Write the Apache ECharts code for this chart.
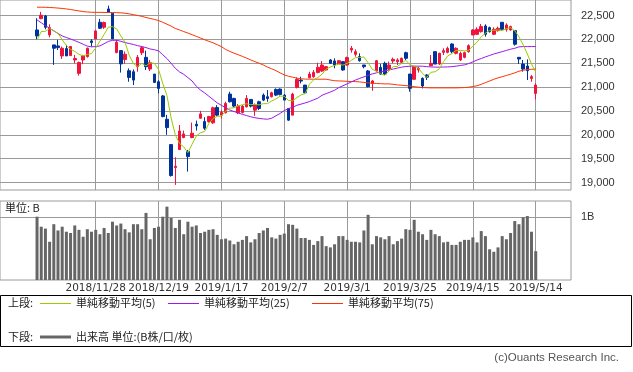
<!DOCTYPE html>
<html><head><meta charset="utf-8">
<script src="https://cdn.jsdelivr.net/npm/echarts@6/dist/echarts.min.js"></script>
<style>html,body{margin:0;padding:0;background:#fff}#c{width:633px;height:372px}</style>
</head><body><div id="c"></div>
<script>
const dates = [
'2018/11/7','2018/11/8','2018/11/9','2018/11/12','2018/11/13','2018/11/14','2018/11/15','2018/11/16','2018/11/19','2018/11/20','2018/11/21','2018/11/22','2018/11/26','2018/11/27','2018/11/28','2018/11/29','2018/11/30',
'2018/12/3','2018/12/4','2018/12/5','2018/12/6','2018/12/7','2018/12/10','2018/12/11','2018/12/12','2018/12/13','2018/12/14','2018/12/17','2018/12/18','2018/12/19','2018/12/20','2018/12/21','2018/12/25','2018/12/26','2018/12/27','2018/12/28',
'2019/1/4','2019/1/7','2019/1/8','2019/1/9','2019/1/10','2019/1/11','2019/1/15','2019/1/16','2019/1/17','2019/1/18','2019/1/21','2019/1/22','2019/1/23','2019/1/24','2019/1/25','2019/1/28','2019/1/29','2019/1/30','2019/1/31',
'2019/2/1','2019/2/4','2019/2/5','2019/2/6','2019/2/7','2019/2/8','2019/2/12','2019/2/13','2019/2/14','2019/2/15','2019/2/18','2019/2/19','2019/2/20','2019/2/21','2019/2/22','2019/2/25','2019/2/26','2019/2/27','2019/2/28',
'2019/3/1','2019/3/4','2019/3/5','2019/3/6','2019/3/7','2019/3/8','2019/3/11','2019/3/12','2019/3/13','2019/3/14','2019/3/15','2019/3/18','2019/3/19','2019/3/20','2019/3/22','2019/3/25','2019/3/26','2019/3/27','2019/3/28','2019/3/29',
'2019/4/1','2019/4/2','2019/4/3','2019/4/4','2019/4/5','2019/4/8','2019/4/9','2019/4/10','2019/4/11','2019/4/12','2019/4/15','2019/4/16','2019/4/17','2019/4/18','2019/4/19','2019/4/22','2019/4/23','2019/4/24','2019/4/25','2019/4/26',
'2019/5/7','2019/5/8','2019/5/9','2019/5/10','2019/5/13','2019/5/14'];

const labelDates = ['2018/11/28','2018/12/19','2019/1/17','2019/2/7','2019/3/1','2019/3/25','2019/4/15','2019/5/14'];
const priceTicks = [19000,19500,20000,20500,21000,21500,22000,22500];
const volumeTicks = [1];

const open = [22199,22437,22493,22094,21886,21864,21655,21809,21662,21571,
21290,21571,21641,21970,22011,22361,22256,22640,22549,21725,
21767,21580,21345,21324,21429,21723,21625,21380,21275,21114,
20817,20328,19797,19315,19693,19944,19650,19944,20223,20349,
20279,20279,20253,20575,20414,20463,20855,20764,20463,20470,
20589,20743,20519,20694,20834,20799,20799,20953,20960,20834,
20554,20414,20995,21149,21044,21198,21219,21310,21338,21360,
21570,21550,21490,21535,21465,21780,21688,21640,21465,21340,
21080,21345,21415,21500,21380,21548,21535,21520,21723,21275,
21165,21360,21185,21255,21450,21744,21485,21730,21730,21905,
21709,21570,21625,21744,22094,22108,22164,22283,22248,22108,
22185,22360,22213,22199,22185,21625,21485,21443,21184,20870];

const close = [22073,22507,22255,22248,21816,21829,21816,21655,21851,21600,
21516,21655,21816,21935,22179,22235,22354,22570,22011,21942,
21488,21690,21205,21149,21625,21828,21429,21513,21100,20974,
20384,20153,19147,19343,20080,20020,19546,20035,20188,20440,
20140,20384,20568,20414,20470,20659,20694,20603,20603,20603,
20764,20603,20624,20554,20729,20764,20883,20834,20848,20729,
20309,20855,21163,21128,20883,21275,21310,21415,21464,21430,
21500,21465,21555,21360,21620,21815,21744,21555,21430,21010,
21130,21555,21275,21275,21465,21583,21570,21605,21605,20975,
21430,21395,21025,21210,21500,21485,21709,21765,21815,21744,
21815,21709,21723,21870,22199,22213,22269,22108,22164,22213,
22234,22213,22304,22269,21900,21590,21380,21345,21220,21044];

const low = [22003,22423,22213,22045,21467,21780,21592,21655,21655,21502,
21243,21481,21620,21851,22011,22221,22221,22563,22011,21711,
21306,21490,21114,21044,21324,21674,21359,21338,21093,20869,
20370,20000,19126,18952,19693,19930,19231,19930,20090,20335,
20105,20258,20230,20393,20344,20449,20680,20575,20435,20449,
20575,20575,20400,20519,20708,20694,20785,20813,20827,20729,
20295,20414,20974,21079,20869,21184,21198,21289,21317,21340,
21485,21395,21490,21345,21450,21723,21640,21535,21395,20995,
20925,21325,21255,21255,21360,21500,21465,21500,21570,20905,
21150,21305,20975,21150,21450,21485,21464,21674,21709,21709,
21688,21548,21604,21723,22094,22094,22143,22059,22143,22094,
22164,22199,22164,22185,21870,21485,21324,21150,21114,20743];

const high = [22444,22577,22514,22318,21886,21990,21851,21886,21851,21676,
21537,21676,21830,22005,22200,22431,22375,22710,22549,21990,
21767,21750,21394,21373,21674,21863,21765,21569,21275,21149,
20838,20419,19797,19532,20206,20090,19685,20258,20300,20503,
20370,20398,20590,20624,20520,20694,20904,20778,20645,20624,
20834,20743,20659,20715,20869,20939,20904,20974,20974,20855,
20554,20883,21205,21219,21044,21324,21359,21513,21548,21445,
21590,21605,21570,21550,21640,21863,21793,21710,21465,21360,
21150,21570,21485,21535,21535,21620,21605,21620,21744,21275,
21445,21430,21205,21275,21673,21744,21723,21815,21850,21919,
21835,21744,21744,21898,22213,22255,22325,22318,22269,22255,
22269,22360,22339,22290,22185,21625,21569,21583,21254,21080];

const volume = [1.01,0.85,0.82,0.61,0.89,0.79,0.85,0.77,0.75,0.87,
0.80,0.69,0.81,0.77,0.80,0.73,0.83,0.75,0.93,0.87,
0.90,0.81,0.76,0.89,0.89,0.81,1.07,0.65,0.83,0.85,
1.01,1.17,0.99,0.83,0.96,0.73,0.93,0.85,0.87,0.75,
0.77,0.80,0.81,0.72,0.65,0.66,0.63,0.57,0.61,0.64,
0.70,0.60,0.65,0.75,0.79,0.83,0.68,0.66,0.72,0.74,
0.89,0.88,0.82,0.67,0.67,0.64,0.56,0.62,0.70,0.54,
0.52,0.57,0.70,0.70,0.64,0.61,0.61,0.60,0.79,1.04,
0.57,0.70,0.68,0.65,0.70,0.57,0.62,0.66,0.81,0.80,
0.96,0.77,0.73,0.64,0.80,0.73,0.70,0.60,0.61,0.56,
0.56,0.61,0.64,0.64,0.68,0.60,0.78,0.70,0.49,0.45,
0.52,0.70,0.65,0.75,0.94,0.89,1.00,1.02,0.77,0.46];

const ma5 = [21990,22165,22170,22230,22180,22131,21993,21873,21793,21750,
21688,21655,21688,21704,21820,21964,22104,22255,22270,22222,
22073,21940,21667,21495,21431,21499,21447,21509,21499,21369,
21080,20825,20352,20000,19821,19749,19627,19805,19974,20046,
20070,20237,20344,20389,20395,20499,20561,20568,20606,20632,
20653,20635,20639,20630,20655,20655,20711,20753,20812,20812,
20721,20715,20781,20837,20868,21061,21152,21202,21269,21379,
21424,21455,21483,21462,21500,21563,21619,21619,21633,21511,
21374,21336,21280,21249,21340,21431,21434,21500,21566,21468,
21437,21402,21286,21207,21312,21323,21386,21534,21655,21704,
21770,21770,21761,21772,21863,21943,22055,22132,22191,22193,
22198,22186,22226,22247,22184,22055,21889,21697,21487,21316];

const ma25 = [22410,22350,22290,22235,22180,22125,22074,22040,22010,21975,
21940,21900,21860,21845,21850,21865,21910,21960,21980,21985,
21960,21935,21915,21895,21870,21852,21830,21800,21785,21760,
21680,21600,21500,21395,21320,21270,21200,21130,21020,20940,
20880,20810,20740,20670,20620,20570,20520,20490,20460,20430,
20405,20380,20360,20345,20335,20328,20350,20400,20450,20510,
20550,20580,20620,20645,20670,20698,20735,20768,20830,20865,
20900,20935,20990,21030,21070,21110,21150,21185,21215,21250,
21278,21300,21320,21340,21360,21380,21400,21420,21432,21440,
21442,21440,21440,21430,21425,21420,21420,21422,21425,21430,
21440,21455,21467,21495,21530,21570,21600,21635,21665,21695,
21720,21745,21770,21795,21815,21845,21851,21851,21851,21851];

const ma75 = [22676,22676,22674,22670,22665,22658,22650,22640,22628,22612,
22598,22585,22575,22570,22568,22568,22566,22566,22565,22562,
22558,22550,22536,22520,22503,22485,22460,22440,22420,22396,
22360,22320,22280,22230,22200,22165,22135,22100,22065,22030,
21995,21960,21930,21890,21850,21790,21750,21712,21680,21645,
21610,21570,21535,21502,21465,21420,21385,21347,21300,21257,
21230,21209,21190,21175,21170,21167,21167,21167,21167,21167,
21150,21135,21131,21128,21122,21118,21117,21110,21100,21090,
21083,21078,21073,21069,21069,21060,21048,21040,21033,21025,
21010,21000,20991,20988,20985,20985,20985,20985,20985,20985,
20985,20988,20992,21000,21013,21030,21060,21095,21130,21165,
21195,21220,21245,21270,21300,21335,21355,21368,21375,21380];

const UP = '#f0143c', DOWN = '#003399', GRID = '#9a9a9a';
const C5 = '#99cc00', C25 = '#9a1aee', C75 = '#ff3300';
const NUM_FONT = 'Liberation Sans, Arial, sans-serif';
const XL_FONT = 'DejaVu Sans, sans-serif';
const JP_FONT = 'Noto Sans CJK JP, sans-serif';

const labelIdx = labelDates.map(d => dates.indexOf(d));
const xMin = -8.84, xMax = 127.42;

const candleData = dates.map((d, i) => [i, open[i], close[i], low[i], high[i]]);
const pairs = arr => arr.map((v, i) => [i, v]);
const fmtComma = v => String(v).replace(/\B(?=(\d{3})+(?!\d))/g, ',');

function xAxisCfg(gi, showLabel) {
  return {
    type: 'value', gridIndex: gi, min: xMin, max: xMax,
    axisLine: {show: false},
    axisTick: {show: false, customValues: labelIdx},
    axisLabel: {show: showLabel, customValues: labelIdx, formatter: v => dates[Math.round(v)],
      color: '#333', fontSize: 10.5, fontFamily: XL_FONT, margin: 3, hideOverlap: false},
    splitLine: {show: true, lineStyle: {color: GRID, width: 1}}
  };
}

const T = (text, x, y, extra) => Object.assign({type: 'text', x: x, y: y,
  style: {text: text, font: '11px ' + JP_FONT, fill: '#222', verticalAlign: 'middle'}}, extra || {});
const L = (x1, x2, y, color, w) => ({type: 'line', shape: {x1: x1, y1: y, x2: x2, y2: y}, style: {stroke: color, lineWidth: w}});

const chart = echarts.init(document.getElementById('c'));
chart.setOption({
  animation: false,
  backgroundColor: '#fff',
  grid: [
    {left: 0, top: 0, width: 571, height: 190, show: true, borderColor: GRID, borderWidth: 1},
    {left: 0, top: 201, width: 571, height: 79, show: true, borderColor: GRID, borderWidth: 1}
  ],
  xAxis: [xAxisCfg(0, false), xAxisCfg(1, true)],
  yAxis: [
    {type: 'value', gridIndex: 0, position: 'right', min: 18845, max: 22827,
      axisLine: {show: false},
      axisTick: {show: true, inside: false, length: 3, customValues: priceTicks, lineStyle: {color: GRID}},
      axisLabel: {customValues: priceTicks, formatter: fmtComma, color: '#333', fontSize: 11, fontFamily: NUM_FONT, margin: 10},
      splitLine: {show: true, lineStyle: {color: GRID, width: 1}}},
    {type: 'value', gridIndex: 1, position: 'right', min: 0, max: 1.26,
      axisLine: {show: false},
      axisTick: {show: true, inside: false, length: 3, customValues: volumeTicks, lineStyle: {color: GRID}},
      axisLabel: {customValues: volumeTicks, formatter: v => v + 'B', color: '#333', fontSize: 11, fontFamily: NUM_FONT, margin: 10},
      splitLine: {show: true, lineStyle: {color: GRID, width: 1}}}
  ],
  series: [
    {type: 'candlestick', xAxisIndex: 0, yAxisIndex: 0, data: candleData,
      encode: {x: 0, y: [1, 2, 3, 4]}, barWidth: 3, z: 3,
      itemStyle: {color: UP, color0: DOWN, borderColor: UP, borderColor0: DOWN, borderWidth: 1}},
    {type: 'line', xAxisIndex: 0, yAxisIndex: 0, data: pairs(ma75), symbol: 'none', z: 4,
      lineStyle: {color: C75, width: 1}},
    {type: 'line', xAxisIndex: 0, yAxisIndex: 0, data: pairs(ma25), symbol: 'none', z: 4,
      lineStyle: {color: C25, width: 1}},
    {type: 'line', xAxisIndex: 0, yAxisIndex: 0, data: pairs(ma5), symbol: 'none', z: 4,
      lineStyle: {color: C5, width: 1}},
    {type: 'bar', xAxisIndex: 1, yAxisIndex: 1, data: pairs(volume), barWidth: 3,
      itemStyle: {color: '#666666'}}
  ],
  graphic: [
    T('単位: B', 5, 208),
    {type: 'rect', shape: {x: 0.5, y: 295.5, width: 631, height: 51}, style: {fill: 'none', stroke: '#000', lineWidth: 1}},
    T('上段:', 8, 303),
    L(40, 71, 303.5, C5, 1),
    T('単純移動平均(5)', 76, 303),
    L(168, 199, 303.5, C25, 1),
    T('単純移動平均(25)', 204, 303),
    L(312, 343, 303.5, C75, 1),
    T('単純移動平均(75)', 348, 303),
    T('下段:', 8, 337),
    L(40, 71, 337, '#666', 3),
    T('出来高 単位:(B株/口/枚)', 76, 337),
    {type: 'text', x: 619, y: 358, style: {text: '(c)Ouants Research Inc.', font: '11.5px ' + NUM_FONT, fill: '#555', align: 'right', verticalAlign: 'middle'}}
  ]
});
</script></body></html>
